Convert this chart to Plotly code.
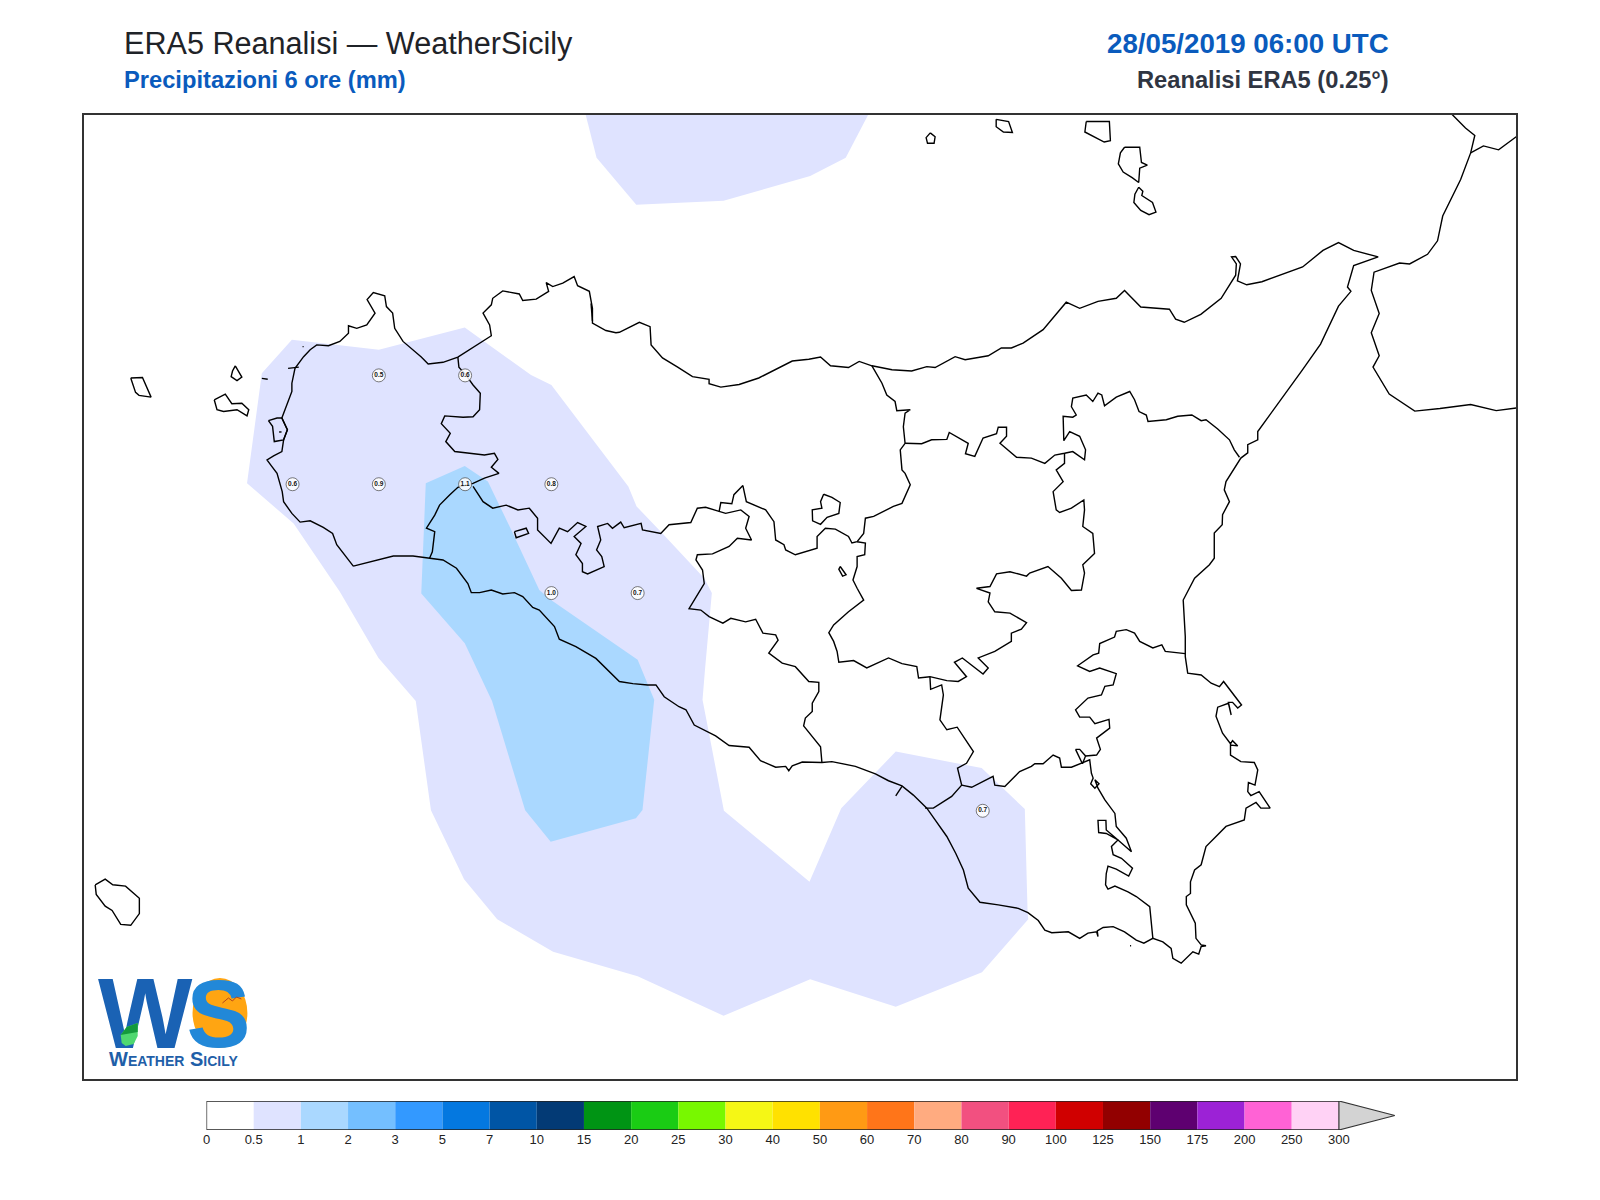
import plotly.graph_objects as go

# map extent (lon/lat)
LON_RANGE = [11.895, 16.046]
LAT_RANGE = [36.384, 38.598]

# colour scale of the precipitation (mm)
LEVELS = ["0", "0.5", "1", "2", "3", "5", "7", "10", "15", "20", "25", "30", "40", "50",
          "60", "70", "80", "90", "100", "125", "150", "175", "200", "250", "300"]
COLORS = ["#ffffff", "#dfe3ff", "#aad8ff", "#74bfff", "#3399ff", "#0478e0", "#0055a5", "#033a75",
          "#009414", "#1acc14", "#78f800", "#f5f715", "#ffe100", "#ff9a14", "#ff7519", "#ffab80",
          "#f25080", "#ff2255", "#d00000", "#920000", "#5e0070", "#9c22d6", "#ff62d5", "#ffd2f5"]

# grid points with a value
POINT_LON = [12.75, 13.0, 12.5, 12.75, 13.0, 13.25, 13.25, 13.5, 14.5]
POINT_LAT = [38.0, 38.0, 37.75, 37.75, 37.75, 37.75, 37.5, 37.5, 37.0]
POINT_VAL = [0.5, 0.6, 0.6, 0.9, 1.1, 0.8, 1.0, 0.7, 0.7]

# filled contours
AREA_05_MAIN = [(12.498,38.082),(12.750,38.059),(12.999,38.110),(13.191,38.001),(13.250,37.978),(13.473,37.745),
    (13.497,37.699),(13.572,37.637),(13.693,37.534),(13.715,37.500),(13.695,37.323),(13.688,37.255),(13.750,37.000),
    (13.998,36.837),(14.090,37.006),(14.248,37.136),(14.497,37.098),(14.622,37.004),(14.630,36.768),(14.632,36.751),
    (14.498,36.629),(14.248,36.550),(14.000,36.613),(13.749,36.529),(13.500,36.620),(13.255,36.676),(13.093,36.751),
    (12.997,36.843),(12.901,37.001),(12.857,37.252),(12.749,37.351),(12.637,37.503),(12.503,37.660),(12.368,37.752),
    (12.411,38.005)]
AREA_05_NORTH = [(13.349,38.6),(13.381,38.50),(13.496,38.392),(13.749,38.401),(14.0,38.458),(14.103,38.50),(14.169,38.6)]
AREA_1 = [(12.886,37.752),(12.999,37.792),(13.066,37.756),(13.129,37.653),(13.215,37.507),(13.249,37.484),(13.500,37.347),
    (13.548,37.255),(13.514,37.002),(13.495,36.983),(13.248,36.929),(13.174,37.001),(13.078,37.252),(12.999,37.385),
    (12.873,37.499)]

# sicily coast, clockwise from the west end of the south coast
COAST = [(12.676,37.562),(12.647,37.591),(12.628,37.611),(12.616,37.637),(12.589,37.651),(12.551,37.666),(12.522,37.663),
    (12.498,37.683),(12.474,37.710),(12.470,37.733),(12.455,37.775),(12.437,37.794),(12.426,37.806),(12.445,37.815),
    (12.469,37.825),(12.474,37.852),(12.485,37.875),(12.469,37.902),(12.498,37.963),(12.498,37.982),(12.507,38.016),
    (12.532,38.043),(12.551,38.059),(12.570,38.070),(12.604,38.068),(12.637,38.078),(12.662,38.097),(12.662,38.114),
    (12.686,38.108),(12.715,38.116),(12.739,38.143),(12.716,38.174),(12.734,38.190),(12.767,38.183),(12.772,38.158),
    (12.790,38.143),(12.796,38.108),(12.820,38.078),(12.854,38.055),(12.873,38.042),(12.893,38.026),(12.936,38.030),
    (12.979,38.042),(13.032,38.068),(13.076,38.091),(13.071,38.116),(13.052,38.143),(13.076,38.162),(13.080,38.177),
    (13.109,38.194),(13.157,38.187),(13.167,38.172),(13.206,38.175),(13.242,38.193),(13.235,38.213),(13.254,38.204),
    (13.283,38.212),(13.316,38.227),(13.326,38.206),(13.360,38.193),(13.369,38.154),(13.369,38.120),(13.408,38.103),
    (13.437,38.098),(13.447,38.099),(13.505,38.122),(13.536,38.112),(13.539,38.070),(13.572,38.040),(13.616,38.019),
    (13.659,37.997),(13.707,37.991),(13.707,37.981),(13.741,37.973),(13.794,37.979),(13.851,37.994),(13.948,38.033),
    (13.996,38.037),(14.030,38.042),(14.059,38.022),(14.111,38.018),(14.142,38.032),(14.179,38.022),(14.237,38.013),
    (14.294,38.010),(14.338,38.020),(14.362,38.018),(14.420,38.043),(14.449,38.036),(14.516,38.045),(14.554,38.063),
    (14.583,38.063),(14.617,38.074),(14.675,38.105),(14.742,38.168),(14.781,38.154),(14.834,38.170),(14.887,38.177),
    (14.911,38.195),(14.958,38.157),(15.041,38.152),(15.059,38.129),(15.084,38.122),(15.132,38.140),(15.191,38.177),
    (15.233,38.230),(15.235,38.256),(15.221,38.272),(15.233,38.273),(15.247,38.256),(15.238,38.217),(15.265,38.208),
    (15.309,38.215),(15.427,38.249),(15.486,38.287),(15.531,38.305),(15.575,38.287),(15.646,38.272),(15.575,38.252),
    (15.557,38.203),(15.567,38.193),(15.531,38.159),(15.479,38.072),(15.427,38.013),(15.343,37.921),(15.297,37.871),
    (15.297,37.852),(15.268,37.841),(15.268,37.822),(15.248,37.810),(15.205,37.756),(15.200,37.737),(15.215,37.710),
    (15.195,37.680),(15.194,37.657),(15.171,37.638),(15.171,37.580),(15.157,37.565),(15.114,37.534),(15.090,37.500),
    (15.081,37.484),(15.087,37.400),(15.087,37.354),(15.094,37.316),(15.133,37.312),(15.162,37.293),(15.186,37.285),
    (15.198,37.297),(15.224,37.270),(15.250,37.243),(15.239,37.236),(15.224,37.249),(15.212,37.249),(15.220,37.220),
    (15.212,37.247),(15.181,37.238),(15.176,37.217),(15.195,37.178),(15.218,37.154),(15.224,37.161),(15.239,37.149),
    (15.218,37.151),(15.218,37.128),(15.248,37.113),(15.287,37.111),(15.297,37.094),(15.289,37.059),(15.270,37.065),
    (15.268,37.044),(15.277,37.035),(15.301,37.044),(15.333,37.006),(15.306,37.006),(15.292,37.019),(15.263,37.006),
    (15.258,36.979),(15.205,36.964),(15.171,36.937),(15.147,36.918),(15.133,36.876),(15.114,36.864),(15.102,36.837),
    (15.102,36.810),(15.090,36.803),(15.090,36.784),(15.116,36.742),(15.118,36.707),(15.133,36.692),(15.147,36.690),
    (15.133,36.688),(15.126,36.671),(15.109,36.676),(15.075,36.650),(15.051,36.661),(15.046,36.684),(15.022,36.699),
    (14.993,36.707),(14.967,36.696),(14.945,36.703),(14.911,36.722),(14.878,36.734),(14.849,36.732),(14.832,36.724),
    (14.834,36.711),(14.830,36.722),(14.805,36.719),(14.781,36.707),(14.748,36.722),(14.700,36.720),(14.680,36.726),
    (14.661,36.748),(14.631,36.766),(14.603,36.776),(14.545,36.784),(14.492,36.790),(14.458,36.822),(14.444,36.864),
    (14.422,36.902),(14.396,36.941),(14.362,36.979),(14.338,37.006),(14.299,37.036),(14.266,37.057),(14.227,37.069),
    (14.189,37.085),(14.131,37.102),(14.063,37.113),(14.034,37.111),(13.977,37.112),(13.948,37.103),(13.938,37.092),
    (13.929,37.102),(13.900,37.100),(13.856,37.115),(13.823,37.146),(13.765,37.150),(13.726,37.172),(13.664,37.197),
    (13.640,37.232),(13.620,37.239),(13.577,37.262),(13.553,37.289),(13.529,37.289),(13.486,37.292),(13.447,37.297),
    (13.379,37.350),(13.321,37.377),(13.273,37.394),(13.259,37.423),(13.215,37.461),(13.196,37.467),(13.167,37.492),
    (13.143,37.501),(13.109,37.498),(13.076,37.507),(13.042,37.501),(13.018,37.501),(13.008,37.522),(12.975,37.557),
    (12.936,37.576),(12.902,37.580),(12.849,37.585),(12.792,37.585),(12.743,37.576),(12.676,37.562)]

# province borders
BORDER_TP = [(12.897,37.580),(12.905,37.595),(12.912,37.641),(12.888,37.649),(12.912,37.679),(12.926,37.702),(12.955,37.725),
    (12.979,37.743),(13.023,37.752),(13.056,37.764),(13.098,37.775),(13.076,37.789),(13.095,37.807),(13.085,37.821),
    (13.056,37.817),(12.970,37.825),(12.944,37.848),(12.957,37.867),(12.931,37.889),(12.941,37.907),(12.994,37.904),
    (13.023,37.905),(13.042,37.921),(13.044,37.959),(13.023,37.978),(13.002,38.001),(12.982,38.019),(12.979,38.042)]
BORDER_AG = [(13.023,37.745),(13.052,37.710),(13.080,37.695),(13.119,37.702),(13.153,37.691),(13.186,37.695),(13.210,37.672),
    (13.210,37.645),(13.249,37.614),(13.273,37.649),(13.297,37.641),(13.326,37.662),(13.350,37.653),(13.316,37.630),
    (13.336,37.614),(13.321,37.588),(13.340,37.568),(13.340,37.549),(13.355,37.544),(13.403,37.561),(13.396,37.584),
    (13.381,37.599),(13.393,37.622),(13.384,37.653),(13.413,37.660),(13.427,37.649),(13.451,37.663),(13.461,37.650),
    (13.510,37.660),(13.514,37.645),(13.567,37.637),(13.591,37.657),(13.654,37.662),(13.673,37.695),(13.697,37.697),
    (13.736,37.687),(13.755,37.683),(13.799,37.691),(13.823,37.676),(13.813,37.649),(13.830,37.622),(13.789,37.626),
    (13.765,37.607),(13.717,37.590),(13.673,37.588),(13.669,37.576),(13.688,37.553),(13.693,37.522),(13.654,37.473),
    (13.649,37.464),(13.683,37.461),(13.707,37.446),(13.747,37.431),(13.770,37.442),(13.813,37.434),(13.842,37.440),
    (13.863,37.408),(13.900,37.404),(13.907,37.392),(13.880,37.362),(13.919,37.339),(13.957,37.331),(13.996,37.297),
    (14.025,37.295),(14.025,37.274),(14.006,37.247),(14.006,37.228),(13.986,37.213),(13.981,37.195),(14.015,37.163),
    (14.030,37.147),(14.034,37.111)]
BORDER_PA = [(13.736,37.687),(13.741,37.708),(13.773,37.705),(13.779,37.726),(13.805,37.747),(13.815,37.710),(13.871,37.691),
    (13.895,37.664),(13.900,37.622),(13.924,37.611),(13.929,37.599),(13.957,37.588),(14.020,37.603),(14.020,37.630),
    (14.044,37.649),(14.073,37.647),(14.111,37.630),(14.121,37.615),(14.136,37.618),(14.155,37.637),(14.160,37.672),
    (14.184,37.676),(14.241,37.699),(14.266,37.706),(14.290,37.749),(14.275,37.775),(14.266,37.783),(14.261,37.829),
    (14.275,37.844),(14.270,37.882),(14.275,37.913),(14.290,37.921),(14.251,37.919),(14.246,37.940),(14.222,37.955),
    (14.208,37.982),(14.179,38.022)]
BORDER_ME = [(14.275,37.844),(14.323,37.843),(14.352,37.852),(14.396,37.853),(14.403,37.869),(14.458,37.844),(14.450,37.820),
    (14.477,37.814),(14.501,37.856),(14.540,37.866),(14.545,37.881),(14.569,37.881),(14.569,37.860),(14.550,37.844),
    (14.598,37.812),(14.641,37.810),(14.680,37.798),(14.709,37.817),(14.737,37.821),(14.761,37.825),(14.795,37.806),
    (14.798,37.829),(14.781,37.860),(14.752,37.871),(14.735,37.850),(14.733,37.906),(14.761,37.904),(14.771,37.909),
    (14.757,37.928),(14.761,37.948),(14.800,37.955),(14.819,37.940),(14.834,37.959),(14.845,37.955),(14.853,37.930),
    (14.887,37.950),(14.926,37.963),(14.940,37.944),(14.953,37.917),(14.974,37.909),(14.979,37.894),(15.032,37.898),
    (15.065,37.906),(15.106,37.909),(15.133,37.896),(15.147,37.898),(15.181,37.877),(15.215,37.852),(15.229,37.829),
    (15.244,37.812)]
BORDER_EN = [(14.737,37.821),(14.737,37.798),(14.713,37.783),(14.733,37.756),(14.704,37.733),(14.713,37.691),(14.723,37.685),
    (14.757,37.695),(14.793,37.714),(14.795,37.691),(14.790,37.653),(14.819,37.637),(14.824,37.591),(14.790,37.565),
    (14.795,37.546),(14.786,37.507),(14.757,37.506),(14.728,37.534),(14.689,37.561),(14.636,37.546),(14.627,37.539),
    (14.579,37.549),(14.540,37.544),(14.521,37.515),(14.482,37.511),(14.521,37.500),(14.516,37.480),(14.535,37.457),
    (14.579,37.454),(14.627,37.432),(14.612,37.417),(14.583,37.408),(14.583,37.389),(14.535,37.366),(14.487,37.351),
    (14.516,37.328),(14.501,37.314),(14.468,37.335),(14.441,37.351),(14.418,37.341),(14.453,37.308),(14.429,37.297),
    (14.396,37.299),(14.347,37.308),(14.314,37.305),(14.309,37.331),(14.266,37.338),(14.227,37.351),(14.164,37.328),
    (14.126,37.345),(14.083,37.341),(14.078,37.366),(14.068,37.389),(14.054,37.409),(14.068,37.427),(14.111,37.457),
    (14.155,37.484),(14.136,37.511),(14.124,37.530),(14.136,37.561),(14.136,37.584),(14.158,37.588),(14.160,37.615),
    (14.136,37.618)]
BORDER_CL = [(14.347,37.308),(14.349,37.279),(14.381,37.289),(14.386,37.266),(14.376,37.209),(14.396,37.186),(14.426,37.192),
    (14.473,37.136),(14.453,37.109),(14.427,37.098),(14.439,37.059),(14.410,37.033),(14.357,37.006),(14.333,37.006)]
BORDER_RG = [(14.439,37.059),(14.468,37.054),(14.530,37.079),(14.535,37.059),(14.564,37.056),(14.607,37.090),(14.641,37.102),
    (14.651,37.108),(14.675,37.108),(14.704,37.128),(14.723,37.121),(14.728,37.100),(14.757,37.100),(14.790,37.111),
    (14.810,37.117),(14.815,37.086),(14.820,37.075),(14.813,37.062),(14.825,37.052),(14.837,37.062),(14.825,37.071),
    (14.834,37.052),(14.854,37.025),(14.883,36.994),(14.887,36.964),(14.916,36.937),(14.931,36.906),(14.892,36.933),
    (14.858,36.956),(14.857,36.978),(14.834,36.978),(14.836,36.950),(14.858,36.948),(14.892,36.933),(14.873,36.918),
    (14.878,36.899),(14.902,36.891),(14.934,36.868),(14.923,36.850),(14.887,36.866),(14.863,36.873),(14.858,36.856),
    (14.856,36.830),(14.863,36.820),(14.883,36.827),(14.921,36.814),(14.945,36.803),(14.984,36.780),(14.987,36.757),
    (14.993,36.707)]
BORDER_SR = [(14.798,37.126),(14.830,37.128),(14.841,37.141),(14.830,37.167),(14.868,37.190),(14.866,37.210),(14.825,37.200),
    (14.810,37.215),(14.781,37.215),(14.769,37.232),(14.805,37.259),(14.844,37.266),(14.854,37.286),(14.878,37.289),
    (14.887,37.315),(14.839,37.328),(14.810,37.320),(14.775,37.333),(14.820,37.358),(14.836,37.362),(14.839,37.384),
    (14.882,37.399),(14.887,37.412),(14.916,37.416),(14.940,37.408),(14.955,37.389),(14.993,37.374),(15.019,37.381),
    (15.029,37.366),(15.087,37.361)]
BORDER_TRI = [(14.769,37.141),(14.781,37.141),(14.798,37.126),(14.789,37.108),(14.769,37.141)]
CALABRIA_A = [(15.858,38.601),(15.899,38.568),(15.926,38.551),(15.914,38.511),(15.885,38.450),(15.833,38.366),(15.818,38.309),
    (15.789,38.278),(15.737,38.256),(15.708,38.258),(15.634,38.237),(15.626,38.195),(15.649,38.142),(15.626,38.098),
    (15.649,38.045),(15.631,38.019),(15.678,37.957),(15.752,37.918),(15.825,37.924),(15.914,37.933),(15.988,37.919),
    (16.046,37.925)]
CALABRIA_B = [(15.914,38.511),(15.951,38.527),(15.995,38.518),(16.046,38.548)]
TICK_GELA = [(14.266,37.056),(14.248,37.034)]
BLOB_TP = [(12.487,38.016),(12.518,38.019)]
BLOB_PA = [(13.365,38.165),(13.369,38.125)]
DOT_PASSERO = [(14.927,36.690),(14.930,36.690)]
DOT_TRAPANI = [(12.529,38.066),(12.532,38.066)]
DOT_STAGNONE = [(12.461,37.870),(12.468,37.870)]

# islands and lakes, all closed
MARETTIMO = [(12.031,37.994),(12.065,37.995),(12.090,37.950),(12.055,37.954),(12.045,37.961),(12.031,37.994)]
LEVANZO = [(12.334,38.022),(12.353,37.996),(12.339,37.988),(12.322,37.997),(12.326,38.010),(12.334,38.022)]
FAVIGNANA = [(12.273,37.944),(12.305,37.957),(12.324,37.935),(12.353,37.936),(12.373,37.921),(12.368,37.907),(12.339,37.921),
    (12.300,37.917),(12.281,37.921),(12.273,37.944)]
FORMICA = [(12.411,37.993),(12.428,37.991)]
STAGNONE = [(12.430,37.896),(12.455,37.902),(12.469,37.902),(12.485,37.875),(12.474,37.852),(12.459,37.850),(12.447,37.848),
    (12.442,37.883),(12.430,37.896)]
POND_W = [(13.143,37.641),(13.177,37.649),(13.184,37.637),(13.148,37.627),(13.143,37.641)]
LAKE_N = [(14.039,37.727),(14.063,37.720),(14.087,37.708),(14.083,37.683),(14.049,37.674),(14.030,37.658),(14.007,37.666),
    (14.006,37.691),(14.034,37.695),(14.030,37.710),(14.039,37.727)]
LAKE_S = [(14.087,37.561),(14.104,37.542),(14.094,37.539),(14.083,37.555),(14.087,37.561)]
PANTELLERIA = [(11.928,36.830),(11.957,36.843),(11.979,36.830),(12.016,36.827),(12.056,36.799),(12.056,36.764),(12.031,36.737),
    (12.002,36.739),(11.977,36.771),(11.957,36.781),(11.931,36.808),(11.928,36.830)]
ALICUDI = [(14.348,38.557),(14.362,38.548),(14.359,38.533),(14.340,38.533),(14.336,38.546),(14.348,38.557)]
FILICUDI = [(14.539,38.588),(14.575,38.583),(14.586,38.558),(14.560,38.559),(14.539,38.571),(14.539,38.588)]
SALINA = [(14.800,38.583),(14.867,38.583),(14.870,38.539),(14.852,38.536),(14.796,38.559),(14.800,38.583)]
LIPARI = [(14.911,38.524),(14.955,38.524),(14.960,38.489),(14.977,38.483),(14.955,38.476),(14.952,38.443),(14.933,38.454),
    (14.907,38.467),(14.893,38.486),(14.899,38.511),(14.911,38.524)]
VULCANO = [(14.952,38.432),(14.964,38.423),(14.961,38.413),(14.992,38.397),(15.002,38.375),(14.982,38.369),(14.958,38.379),
    (14.938,38.397),(14.941,38.416),(14.952,38.432)]

OUTLINES = [COAST, BORDER_TP, BORDER_AG, BORDER_PA, BORDER_ME, BORDER_EN, BORDER_CL, BORDER_RG, BORDER_SR, BORDER_TRI,
            CALABRIA_A, CALABRIA_B, TICK_GELA, BLOB_TP, BLOB_PA, DOT_PASSERO, DOT_TRAPANI, DOT_STAGNONE,
            MARETTIMO, LEVANZO, FAVIGNANA, FORMICA, STAGNONE,
            POND_W, LAKE_N, LAKE_S, PANTELLERIA, ALICUDI, FILICUDI, SALINA, LIPARI, VULCANO]

W, H = 1600, 1200
FONT = "Liberation Sans"


def px(x):
    return x / W


def py(y):
    return 1 - y / H


def area(pts, color):
    return go.Scatter(x=[p[0] for p in pts] + [pts[0][0]], y=[p[1] for p in pts] + [pts[0][1]],
                      mode="lines", fill="toself", fillcolor=color, line=dict(width=0),
                      hoverinfo="skip", showlegend=False)


fig = go.Figure()

fig.add_trace(area(AREA_05_MAIN, COLORS[1]))
fig.add_trace(area(AREA_05_NORTH, COLORS[1]))
fig.add_trace(area(AREA_1, COLORS[2]))

for pts in OUTLINES:
    fig.add_trace(go.Scatter(x=[p[0] for p in pts], y=[p[1] for p in pts], mode="lines",
                             line=dict(color="black", width=1.4), hoverinfo="skip", showlegend=False))

fig.add_trace(go.Scatter(x=POINT_LON, y=POINT_LAT, mode="markers+text",
                         text=["%.1f" % v for v in POINT_VAL], textposition="middle center",
                         textfont=dict(family=FONT, size=6.5, color="#111111", weight="bold"),
                         marker=dict(size=13, color="rgba(255,255,255,0.85)", line=dict(color="#444444", width=0.7)),
                         hoverinfo="skip", showlegend=False))

# colour bar on its own axes
n = len(COLORS)
fig.add_trace(go.Bar(x=[i + 0.5 for i in range(n)], y=[1] * n, width=[1] * n, marker=dict(color=COLORS, line=dict(width=0)),
                     xaxis="x2", yaxis="y2", hoverinfo="skip", showlegend=False))
fig.add_trace(go.Scatter(x=[n, n + 1.187, n, n], y=[1, 0.5, 0, 1], mode="lines", fill="toself", fillcolor="#d3d3d3",
                         line=dict(color="#333333", width=1.2), xaxis="x2", yaxis="y2", hoverinfo="skip", showlegend=False))
fig.add_trace(go.Scatter(x=[n, 0, 0, n], y=[1, 1, 0, 0], mode="lines", line=dict(color="#222222", width=1.3),
                         xaxis="x2", yaxis="y2", hoverinfo="skip", showlegend=False))


def label(text, x, y, size, color, anchor="left", bold=False, **kw):
    fig.add_annotation(text=text, x=px(x), y=py(y), xref="paper", yref="paper", xanchor=anchor, yanchor="middle",
                       showarrow=False, font=dict(family=FONT, size=size, color=color, weight="bold" if bold else "normal", **kw))


label("ERA5 Reanalisi — WeatherSicily", 118, 43, 30.6, "#1f2328")
label("Precipitazioni 6 ore (mm)", 118, 80, 23.7, "#0a5bbd", bold=True)
label("28/05/2019 06:00 UTC", 1390, 44, 27.7, "#0a5bbd", anchor="right", bold=True)
label("Reanalisi ERA5 (0.25°)", 1390, 80, 23.7, "#2f3542", anchor="right", bold=True)
label("Weather Sicily", 170, 1059, 20, "#1f5fa8", anchor="center", bold=True, variant="small-caps")


def poly(points, close=True):
    d = "M" + " L".join("%.5f,%.5f" % (px(a), py(b)) for a, b in points)
    return d + (" Z" if close else "")


# logo: orange disc, the two letters, then the leaf and the bird on top of them
fig.add_shape(type="circle", xref="paper", yref="paper", x0=px(189), x1=px(244), y0=py(1048), y1=py(978),
              fillcolor="#ffa512", line=dict(width=0), layer="above")
fig.add_shape(type="rect", xref="paper", yref="paper", x0=px(186), x1=px(244), y0=py(1044), y1=py(964),
              line=dict(width=0), layer="above",
              label=dict(text="S", textposition="middle center",
                         font=dict(family=FONT, size=96, color="#2288d8", weight="bold")))
fig.add_shape(type="rect", xref="paper", yref="paper", x0=px(92), x1=px(191), y0=py(1044), y1=py(964),
              line=dict(width=0), layer="above",
              label=dict(text="W", textposition="middle center",
                         font=dict(family=FONT, size=100, color="#1a62b4", weight="bold")))
fig.add_shape(type="path", xref="paper", yref="paper", layer="above", line=dict(width=0), fillcolor="#4fd870",
              path=poly([(134, 1023), (123, 1027), (117, 1035), (118, 1043), (122, 1046), (130, 1044), (134, 1036)]))
fig.add_shape(type="path", xref="paper", yref="paper", layer="above", line=dict(width=0), fillcolor="#149a3c",
              path=poly([(134, 1023), (123, 1027), (117, 1035), (134, 1032)]))
fig.add_shape(type="path", xref="paper", yref="paper", layer="above", line=dict(color="#b5451a", width=1),
              path=poly([(219, 1003), (225, 998), (229, 1001), (233, 997), (238, 999)], close=False))

fig.update_layout(
    width=W, height=H, autosize=False, margin=dict(l=0, r=0, t=0, b=0),
    paper_bgcolor="white", plot_bgcolor="white", showlegend=False, barmode="overlay",
    xaxis=dict(domain=[px(80), px(1516)], range=LON_RANGE, showgrid=False, zeroline=False, showticklabels=False,
               ticks="", showline=True, mirror=True, linecolor="#333333", linewidth=2),
    yaxis=dict(domain=[py(1079), py(115)], range=LAT_RANGE, showgrid=False, zeroline=False, showticklabels=False,
               ticks="", showline=True, mirror=True, linecolor="#333333", linewidth=2),
    xaxis2=dict(domain=[px(203), px(1394.4)], range=[0, n + 1.187], anchor="y2", showgrid=False, zeroline=False,
                tickmode="array", tickvals=list(range(n + 1)), ticktext=LEVELS, ticks="", ticklen=0, tickangle=0,
                tickfont=dict(family=FONT, size=13, color="#222222"), showline=False),
    yaxis2=dict(domain=[py(1130), py(1101)], range=[0, 1], anchor="x2", showgrid=False, zeroline=False,
                showticklabels=False, ticks="", showline=False),
)

fig.write_html("out.html", config=dict(displayModeBar=False), post_script="document.body.style.margin='0';")
